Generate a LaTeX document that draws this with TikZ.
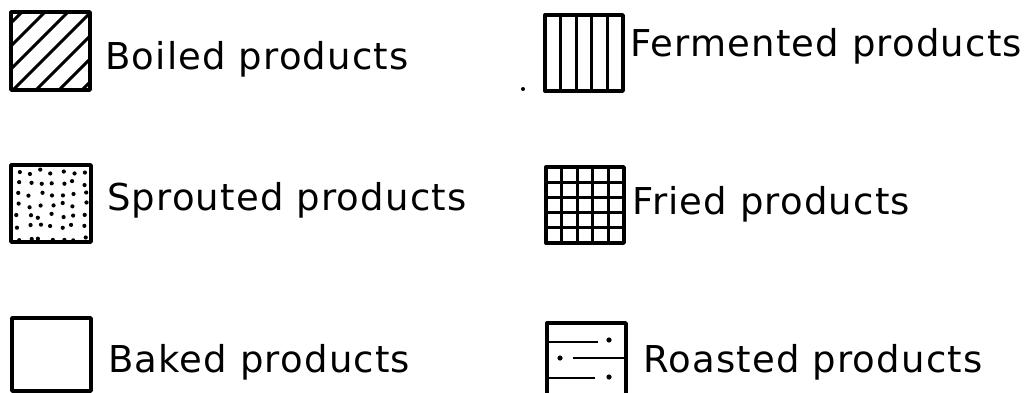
\documentclass[tikz,border=0pt]{standalone}
\usepackage{fontspec}
\setmainfont[LetterSpace=3.2]{DejaVu Sans}
\begin{document}
\begin{tikzpicture}[x=1pt,y=-1pt,
  box/.style={line width=3.4pt, line join=round},
  hatch/.style={line width=2.8pt},
  lbl/.style={anchor=base west, inner sep=0pt, font=\fontsize{37}{40}\selectfont}]
\useasboundingbox (0,0) rectangle (1025,393);

% Boiled: diagonal hatch
\begin{scope}
  \clip (11,12) rectangle (90,90);
  \foreach \a in {-79,-56,...,90} \draw[hatch, line width=3pt] (\a,90) -- ++(78,-78);
\end{scope}
\draw[box] (11,12) rectangle (90,90);

% Sprouted: dots
\pgfmathsetseed{11}
\foreach \i in {0,...,6}
  \foreach \j in {0,...,6} {
    \pgfmathsetmacro\dx{rand*2.8}
    \pgfmathsetmacro\dy{rand*2.8}
    \fill ({18+\i*11+\dx},{172+\j*11+\dy}) circle (2.1);
  }
\draw[box] (11,165) rectangle (91,242);

% Baked: empty
\draw[box] (12,318) rectangle (91,391);

% Fermented: vertical stripes
\foreach \k in {1,...,4} \draw[hatch] ({545+\k*15.6},15) -- ({545+\k*15.6},91);
\draw[box] (545,15) rectangle (623,91);
\fill (523,89) circle (2);

% Fried: grid
\foreach \k in {1,...,4} {
  \draw[hatch, line width=3.2pt] ({546+\k*15.6},167) -- ({546+\k*15.6},243);
  \draw[hatch, line width=3.2pt] (546,{167+\k*15.2}) -- (624,{167+\k*15.2});
}
\draw[box] (546,167) rectangle (624,243);

% Roasted
\draw[box] (547,393) -- (547,323) -- (626,323) -- (626,393);
\draw[hatch] (547,342) -- (598,342);
\fill (609,340) circle (2.6);
\fill (560,358) circle (2.6);
\draw[hatch] (573,358) -- (626,358);
\draw[hatch] (547,378) -- (595,378);
\fill (609,377) circle (2.6);

% Labels
\node[lbl] (boiled) at (105,70) {Boiled products};
\node[lbl] (ferm) at (630,57) {Fermented products};
\node[lbl] (sprout) at (107,210) {Sprouted products};
\node[lbl] (fried) at (632,214) {Fried products};
\node[lbl] (baked) at (108,372) {Baked products};
\node[lbl] (roast) at (643,372) {Roasted products};
\end{tikzpicture}
\end{document}
